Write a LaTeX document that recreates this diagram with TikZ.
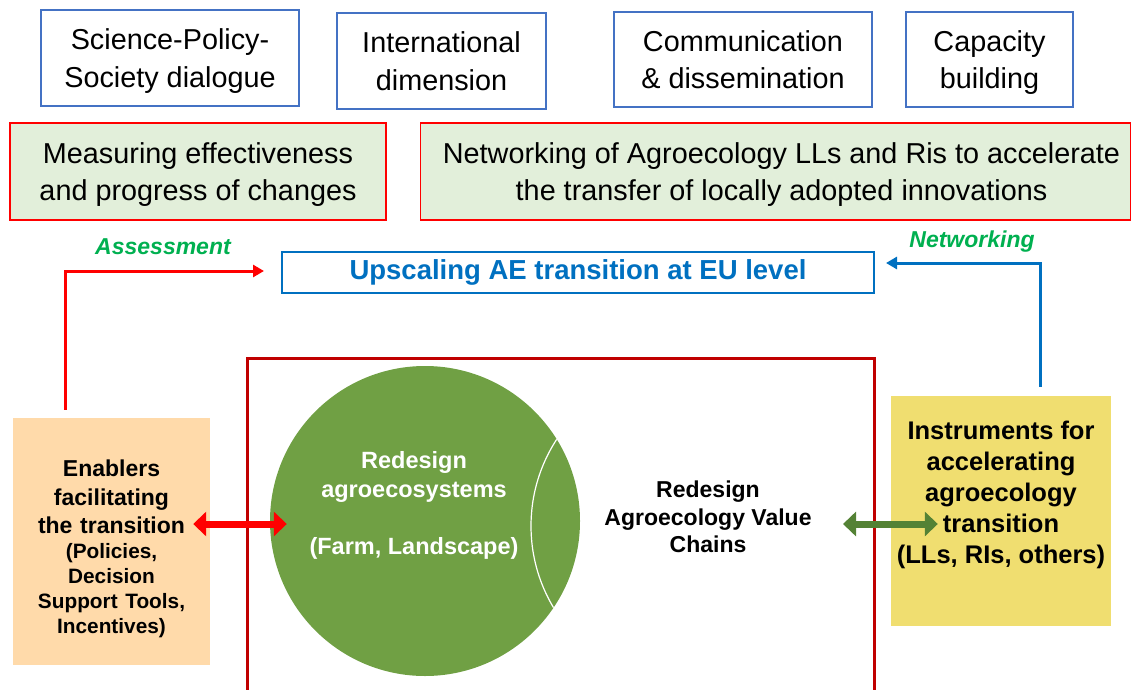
\documentclass[tikz,border=0pt]{standalone}
\usepackage{fontspec}
\setmainfont{Liberation Sans}
\usetikzlibrary{arrows.meta}
\definecolor{boxblue}{HTML}{4472C4}
\definecolor{upblue}{HTML}{0070C0}
\definecolor{palegreen}{HTML}{E2EFDA}
\definecolor{darkred}{HTML}{C00000}
\definecolor{leafgreen}{HTML}{70A044}
\definecolor{arrowgreen}{HTML}{548235}
\definecolor{labelgreen}{HTML}{00B050}
\definecolor{peach}{HTML}{FFDAAA}
\definecolor{gold}{HTML}{F0DE70}
\tikzset{
  topbox/.style={draw=boxblue, line width=1.5pt, align=center, inner sep=0pt,
    text depth=0pt, font=\fontsize{28.8}{37.5}\selectfont},
  goalbox/.style={draw=red, fill=palegreen, line width=1.5pt, align=center,
    inner sep=0pt, minimum height=97pt, text depth=-4pt, font=\fontsize{28.8}{37}\selectfont},
  flowlabel/.style={text=labelgreen, font=\fontsize{23}{27}\selectfont\bfseries\itshape},
  boldtxt/.style={align=center, inner sep=0pt, font=\bfseries},
  looparrow/.style={line width=3pt, -{Triangle[length=11pt,width=12pt]}},
  thickarrow/.style={line width=7pt, {Triangle[length=13pt,width=24pt]}-{Triangle[length=13pt,width=24pt]}}
}
\begin{document}
\begin{tikzpicture}[x=1pt, y=-1pt]
\useasboundingbox (0,0) rectangle (1132,690);
% themes on top
\node[topbox, minimum width=258pt, minimum height=96pt] (spsd) at (170,58) {Science-Policy-\\Society dialogue};
\node[topbox, minimum width=209pt, minimum height=96pt] (intl) at (441.5,61) {International\\dimension};
\node[topbox, minimum width=258pt, minimum height=95pt] (comm) at (743,59.5) {Communication\\\& dissemination};
\node[topbox, minimum width=167pt, minimum height=95pt] (capa) at (989.5,59.5) {Capacity\\building};
\node[goalbox, minimum width=376pt] (measure) at (198,171.5) {Measuring effectiveness\\and progress of changes};
\node[goalbox, minimum width=710pt] (network) at (775.5,171.5) {\hspace*{12pt}Networking of Agroecology LLs and Ris to accelerate\\\hspace*{12pt}the transfer of locally adopted innovations};
% upscaling
\node[draw=upblue, line width=2pt, minimum width=592pt, minimum height=41pt, text=upblue,
  font=\fontsize{27.5}{30}\selectfont\bfseries] (up) at (578,272.5) {Upscaling AE transition at EU level};
\node[flowlabel] (assess) at (163,247) {Assessment};
\node[flowlabel] (netw) at (972,242) {Networking};
% redesign frame
\draw[darkred, line width=3pt] (247,695) -- (247,358) -- (874,358) -- (874,695);
\node[circle, fill=leafgreen, minimum size=310pt, inner sep=0pt] (agro) at (425,521) {};
\begin{scope}
  \clip (425,521) circle (155);
  \draw[white, line width=1.2pt] (690,526) circle (159);
\end{scope}
\node[boldtxt, text=white, font=\fontsize{23.5}{29}\selectfont\bfseries] (agrotxt) at (414,505) {Redesign\\agroecosystems\\[28pt](Farm, Landscape)};
\node[boldtxt, font=\fontsize{23}{27.5}\selectfont\bfseries] (chains) at (708,517) {Redesign\\Agroecology Value\\Chains};
% side boxes
\node[fill=peach, minimum width=197pt, minimum height=247pt] (enab) at (111.5,541.5) {};
\node[boldtxt, text width=195pt, font=\fontsize{23}{28.5}\selectfont\bfseries] (enabtxt) at (111.5,549) {Enablers\\facilitating\\the transition\par
  \fontsize{20.8}{25}\selectfont(Policies,\\Decision\\Support Tools,\\Incentives)\par};
\node[fill=gold, minimum width=220pt, minimum height=230pt] (inst) at (1001,511) {};
\node[boldtxt, font=\fontsize{25.5}{31}\selectfont\bfseries] (insttxt) at (1001,495) {Instruments for\\accelerating\\agroecology\\transition\\(LLs, RIs, others)};
% connectors
\draw[looparrow, red] ([xshift=-46.5pt, yshift=8pt]enab.north) |- ([xshift=-17pt, yshift=1.5pt]up.west);
\draw[looparrow, upblue] ([xshift=39pt, yshift=9pt]inst.north) |- ([xshift=11pt, yshift=9.5pt]up.east);
\draw[thickarrow, red] ([xshift=-17pt, yshift=17.5pt]enab.east) -- ([xshift=17pt, yshift=-3pt]agro.west);
\coordinate (vcend) at (843,524);
\draw[thickarrow, arrowgreen] (vcend) -- ([xshift=47pt, yshift=-13pt]inst.west);
\end{tikzpicture}
\end{document}
